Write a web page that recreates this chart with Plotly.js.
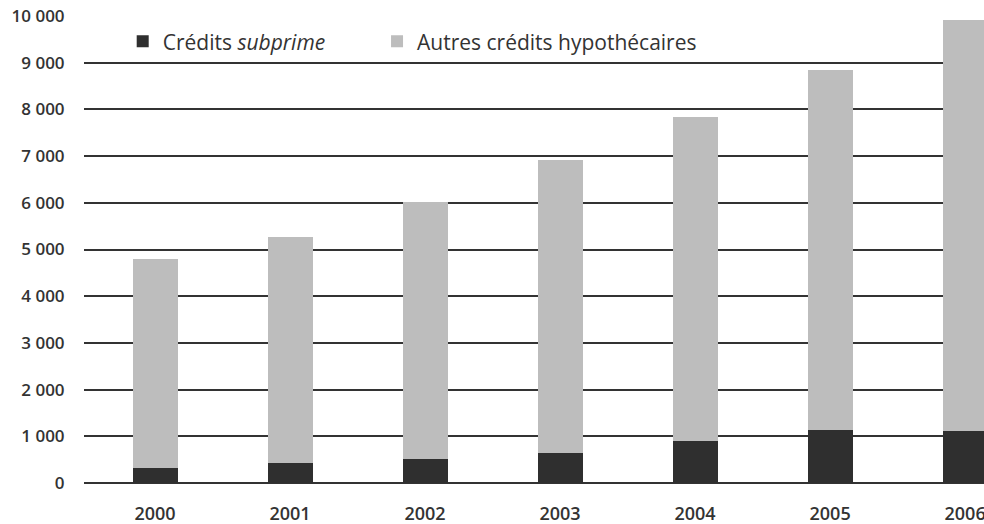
<!DOCTYPE html>
<html><head><meta charset="utf-8">
<script src="https://cdn.plot.ly/plotly-3.0.1.min.js"></script>
<style>html,body{margin:0;padding:0;background:#fff;}#chart{width:984px;height:524px;}</style>
</head><body><div id="chart"></div>
<script>
const years = ['2000','2001','2002','2003','2004','2005','2006'];
const subprime = [320, 430, 520, 640, 900, 1135, 1120];
const totals = [4800, 5270, 6020, 6920, 7840, 8845, 9915];
const autres = totals.map((t, i) => t - subprime[i]);

const traces = [
  {type:'bar', x: years, y: subprime, name:'Crédits <i>subprime</i>', legend:'legend',
   marker:{color:'#2f2f2f', line:{width:0}}},
  {type:'bar', x: years, y: autres, name:'Autres crédits hypothécaires', legend:'legend2',
   marker:{color:'#bdbdbd', line:{width:0}}}
];
const legFont = {family:'"Open Sans", Lato, sans-serif', size:21, color:'#333', weight:500};
const xTickFont = {family:'"Open Sans", Lato, sans-serif', size:18, color:'#333', weight:600};
const yTickFont = {family:'"Open Sans", Lato, sans-serif', size:17, color:'#333', weight:600};
const layout = {
  width:984, height:524,
  margin:{l:84, r:0, t:16, b:41, pad:0},
  paper_bgcolor:'#fff', plot_bgcolor:'#fff',
  barmode:'stack', bargap:0.667,
  separators:', ',
  font:{family:'"Open Sans", Lato, sans-serif', color:'#333', size:16},
  showlegend:true,
  legend:{orientation:'h', x:0.043, y:0.945, xanchor:'left', yanchor:'middle',
          font:legFont, bgcolor:'rgba(0,0,0,0)', itemwidth:30},
  legend2:{orientation:'h', x:0.3256, y:0.945, xanchor:'left', yanchor:'middle',
          font:legFont, bgcolor:'rgba(0,0,0,0)', itemwidth:30},
  xaxis:{type:'category', range:[-0.526, 6.14], showgrid:false, zeroline:false,
         showline:false, ticks:'outside', ticklen:14, tickcolor:'rgba(0,0,0,0)',
         tickfont:xTickFont, fixedrange:true},
  yaxis:{range:[0, 10000], dtick:1000, tickformat:',d', showgrid:true,
         gridcolor:'#333', gridwidth:2, zeroline:true, zerolinecolor:'#333', zerolinewidth:2,
         showline:false, ticks:'outside', ticklen:15, tickcolor:'rgba(0,0,0,0)',
         tickfont:yTickFont, fixedrange:true}
};
Plotly.newPlot('chart', traces, layout, {displayModeBar:false, staticPlot:true});
</script></body></html>
